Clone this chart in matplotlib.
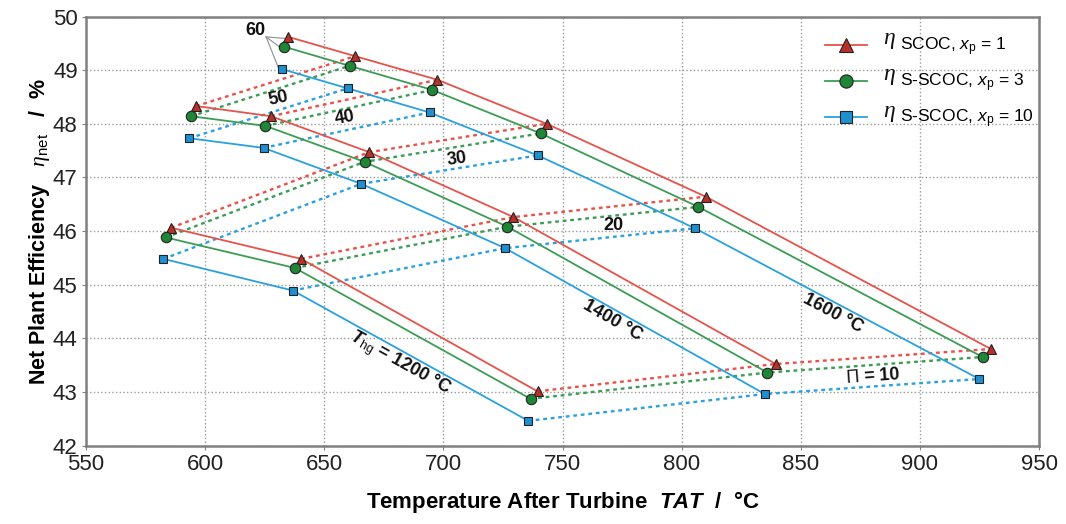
import matplotlib
matplotlib.use('Agg')
import matplotlib.pyplot as plt
from matplotlib.lines import Line2D
from matplotlib.patches import Rectangle

plt.rcParams['font.family'] = ['Liberation Sans', 'DejaVu Sans']
plt.rcParams['mathtext.fontset'] = 'custom'
plt.rcParams['mathtext.rm'] = 'Liberation Sans'
plt.rcParams['mathtext.sf'] = 'Liberation Sans'
plt.rcParams['mathtext.it'] = 'Liberation Serif:italic'
plt.rcParams['mathtext.cal'] = 'Liberation Sans:italic'
plt.rcParams['mathtext.bf'] = 'Liberation Sans:bold'
plt.rcParams['mathtext.bfit'] = 'Liberation Sans:bold:italic'

# hot gas temperatures and pressure ratios of each curve
thg = [1200, 1400, 1600]
pi_ratio = [[30, 20, 10], [50, 40, 30, 20, 10], [60, 50, 40, 30, 20, 10]]

# SCOC, xp = 1
tat_scoc = [[585.7, 640.3, 739.5],
            [596.2, 627.7, 668.9, 729.4, 839.5],
            [634.9, 663.0, 697.5, 743.3, 810.1, 929.8]]
eta_scoc = [[46.06, 45.48, 43.01],
            [48.33, 48.14, 47.47, 46.26, 43.52],
            [49.62, 49.26, 48.82, 48.00, 46.64, 43.80]]

# S-SCOC, xp = 3
tat_s3 = [[583.5, 637.7, 736.6],
          [594.1, 625.3, 666.9, 726.9, 836.0],
          [632.9, 660.6, 695.4, 740.8, 807.0, 926.3]]
eta_s3 = [[45.88, 45.31, 42.87],
          [48.14, 47.96, 47.29, 46.08, 43.36],
          [49.44, 49.08, 48.63, 47.82, 46.45, 43.65]]

# S-SCOC, xp = 10
tat_s10 = [[582.5, 636.8, 735.6],
           [593.3, 624.5, 665.5, 725.9, 834.9],
           [632.2, 659.8, 694.2, 739.6, 805.6, 924.9]]
eta_s10 = [[45.48, 44.89, 42.46],
           [47.73, 47.55, 46.88, 45.68, 42.96],
           [49.02, 48.66, 48.21, 47.41, 46.05, 43.24]]

series = [
    (tat_scoc, eta_scoc, '#e5534b', '#b8302a', '^', 7.5,
     r'SCOC, $\mathcal{x}_{\mathrm{p}}$ = 1'),
    (tat_s3, eta_s3, '#3c9c55', '#1e8636', 'o', 7.5,
     r'S-SCOC, $\mathcal{x}_{\mathrm{p}}$ = 3'),
    (tat_s10, eta_s10, '#2aa1de', '#1f8fd0', 's', 6.3,
     r'S-SCOC, $\mathcal{x}_{\mathrm{p}}$ = 10'),
]

fig = plt.figure(figsize=(10.66, 5.24), dpi=100)
ax = fig.add_axes([0.0807, 0.1498, 0.894, 0.8187])

handles = []
for tat, eta, lc, mc, mk, ms, lab in series:
    # constant hot gas temperature curves
    for g in range(len(thg)):
        ax.plot(tat[g], eta[g], '-', color=lc, lw=1.3, zorder=3)
    # constant pressure ratio curves
    for p in [10, 20, 30, 40, 50]:
        xs, ys = [], []
        for g in range(len(thg)):
            if p in pi_ratio[g]:
                i = pi_ratio[g].index(p)
                xs.append(tat[g][i])
                ys.append(eta[g][i])
        ax.plot(xs, ys, color=lc, lw=1.7, ls=(0, (1.6, 1.6)), zorder=2)
    for g in range(len(thg)):
        ax.plot(tat[g], eta[g], ls='none', marker=mk, ms=ms, mfc=mc,
                mec='#222222', mew=0.8, zorder=4)
    handles.append(Line2D([], [], color=lc, lw=1.3, marker=mk, ms=ms + 2,
                          mfc=mc, mec='#222222', mew=0.8, label=lab))

# leader lines for the pi = 60 label
lead_x, lead_y = 625.6, 49.62
for tat, eta, *_ in series:
    ax.plot([lead_x, tat[2][0] - 1.0], [lead_y, eta[2][0] - 0.03],
            color='#999999', lw=0.9, zorder=2)

bold = dict(fontsize=13, fontweight='bold', color='#111111')
ax.text(621, 49.73, '60', ha='center', va='center', **bold)
ax.text(630.7, 48.48, '50', ha='center', va='center', rotation=12, **bold)
ax.text(658.8, 48.11, '40', ha='center', va='center', rotation=10, **bold)
ax.text(705.9, 47.34, '30', ha='center', va='center', rotation=8, **bold)
ax.text(771.4, 46.10, '20', ha='center', va='center', **bold)
ax.text(880.3, 43.28, r'$\mathit{\Pi}$ = 10', ha='center', va='center', rotation=4, **bold)
ax.text(681.9, 43.54, r'$\mathbfit{T}_{\mathrm{hg}}$ = 1200 °C', ha='center', va='center',
        rotation=-29, **bold)
ax.text(771.0, 44.34, '1400 °C', ha='center', va='center', rotation=-30, **bold)
ax.text(863.4, 44.47, '1600 °C', ha='center', va='center', rotation=-28, **bold)

ax.set_xlim(550, 950)
ax.set_ylim(42, 50)
ax.set_xticks(range(550, 951, 50))
ax.set_yticks(range(42, 51))
ax.grid(True, ls=':', color='#9a9a9a', lw=1.0, zorder=0)
for sp in ax.spines.values():
    sp.set_color('#808080')
    sp.set_linewidth(1.8)
ax.tick_params(direction='out', length=3, color='#808080', labelsize=16, pad=3,
               labelcolor='#222222')

ax.set_xlabel(r'Temperature After Turbine  $\mathbfit{TAT}$  /  °C', fontsize=16,
              fontweight='bold', labelpad=10)
ax.set_ylabel(r'Net Plant Efficiency   $\eta_{\mathrm{net}}$   /  %', fontsize=15.5,
              fontweight='bold', labelpad=1)

# white block behind the legend hides the grid there
ax.add_patch(Rectangle((0.751, 0.684), 0.249, 0.316, transform=ax.transAxes,
                       facecolor='white', edgecolor='none', zorder=1))

leg = ax.legend(handles=handles, loc='upper left', bbox_to_anchor=(0.7755, 0.955),
                fontsize=12.5, frameon=False, handlelength=2.4, handletextpad=1.9,
                labelspacing=0.8, borderaxespad=0, borderpad=0)
leg.set_zorder(5)
for txt in leg.get_texts():
    ax.annotate(r'$\eta$', xy=(0, 0.8), xycoords=txt, xytext=(-3, 0),
                textcoords='offset points', ha='right', va='center', fontsize=17,
                color='#111111', zorder=6)

fig.savefig('out.png', dpi=100)
